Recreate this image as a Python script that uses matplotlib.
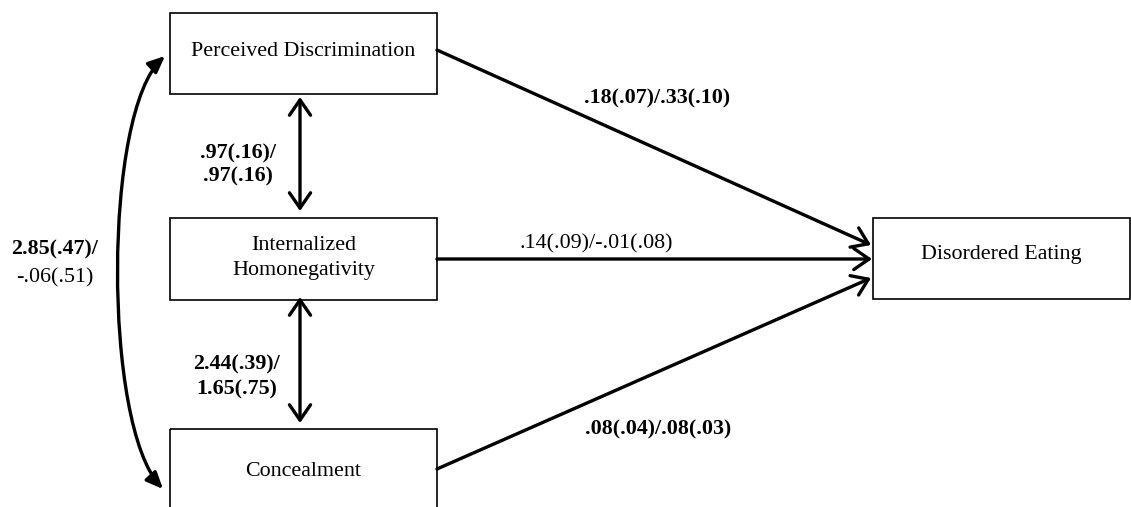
import matplotlib.pyplot as plt
from matplotlib.patches import Rectangle, FancyArrowPatch
from matplotlib.path import Path

# --- model values: estimate (SE) for the two groups ---
nodes = ["Perceived Discrimination", "Internalized\nHomonegativity", "Concealment", "Disordered Eating"]

# direct paths to the outcome (PD, IH, C -> DE)
direct_est_1 = [0.18, 0.14, 0.08]
direct_se_1 = [0.07, 0.09, 0.04]
direct_sig_1 = [True, False, True]
direct_est_2 = [0.33, -0.01, 0.08]
direct_se_2 = [0.10, 0.08, 0.03]
direct_sig_2 = [True, False, True]

# covariances: PD-IH, IH-C, PD-C
cov_est_1 = [0.97, 2.44, 2.85]
cov_se_1 = [0.16, 0.39, 0.47]
cov_sig_1 = [True, True, True]
cov_est_2 = [0.97, 1.65, -0.06]
cov_se_2 = [0.16, 0.75, 0.51]
cov_sig_2 = [True, True, False]


def fmt(v):
    s = f"{abs(v):.2f}"
    if s.startswith("0"):
        s = s[1:]
    return ("-" if v < 0 else "") + s


def est(v, se):
    return f"{fmt(v)}({fmt(se)})"


plt.rcParams['font.family'] = ['Liberation Serif', 'DejaVu Serif']
FS = 15.8
LW = 2.4

fig = plt.figure(figsize=(11.31, 5.07), dpi=100)
ax = fig.add_axes([0, 0, 1, 1])
ax.set_xlim(0, 1131)
ax.set_ylim(507, 0)
ax.axis('off')

# box layout (x0, y0, x1, y1) in pixel-like units
boxes = [(170, 13, 437, 94), (170, 218, 437, 300), (170, 429, 437, 520), (873, 218, 1130, 299)]
label_y = [51, 258, 471, 255]

for (x0, y0, x1, y1), name, ty in zip(boxes, nodes, label_y):
    ax.add_patch(Rectangle((x0, y0), x1 - x0, y1 - y0, fill=False, ec='black', lw=1.2, zorder=2))
    ax.text((x0 + x1) / 2, ty, name, ha='center', va='center', fontsize=FS, linespacing=1.45)

open_head = '->,head_length=0.55,head_width=0.38'
open_both = '<->,head_length=0.55,head_width=0.38'

# direct effects
starts = [(437, 50), (437, 259), (437, 469)]
ends = [(871, 245), (872, 259), (871, 278)]
lab_pos = [(657, 98), (596, 244), (658, 429)]
for i in range(3):
    ax.add_patch(FancyArrowPatch(starts[i], ends[i], arrowstyle=open_head, mutation_scale=20,
                                 lw=LW, color='black', shrinkA=0, shrinkB=0))
    txt = est(direct_est_1[i], direct_se_1[i]) + "/" + est(direct_est_2[i], direct_se_2[i])
    ax.text(lab_pos[i][0], lab_pos[i][1], txt, ha='center', va='center', fontsize=FS,
            fontweight='bold' if direct_sig_1[i] else 'normal')

# vertical covariances
vert = [((300, 97), (300, 211)), ((300, 297), (300, 423))]
for a, b in vert:
    ax.add_patch(FancyArrowPatch(a, b, arrowstyle=open_both, mutation_scale=20,
                                 lw=LW, color='black', shrinkA=0, shrinkB=0))

# curved covariance PD <-> C
curve = Path([(165, 56), (103, 112), (103, 425), (163, 489)],
             [Path.MOVETO, Path.CURVE4, Path.CURVE4, Path.CURVE4])
ax.add_patch(FancyArrowPatch(path=curve, arrowstyle='<|-|>,head_length=0.5,head_width=0.22',
                             mutation_scale=20, lw=LW, color='black'))

cov_pos = [(238, 153, 176), (237, 364, 389), (55, 249, 278)]
for i, (cx, y1, y2) in enumerate(cov_pos):
    ax.text(cx, y1, est(cov_est_1[i], cov_se_1[i]) + "/", ha='center', va='center', fontsize=FS,
            fontweight='bold' if cov_sig_1[i] else 'normal')
    ax.text(cx, y2, est(cov_est_2[i], cov_se_2[i]), ha='center', va='center', fontsize=FS,
            fontweight='bold' if cov_sig_2[i] else 'normal')

fig.savefig('out.png', dpi=100)
